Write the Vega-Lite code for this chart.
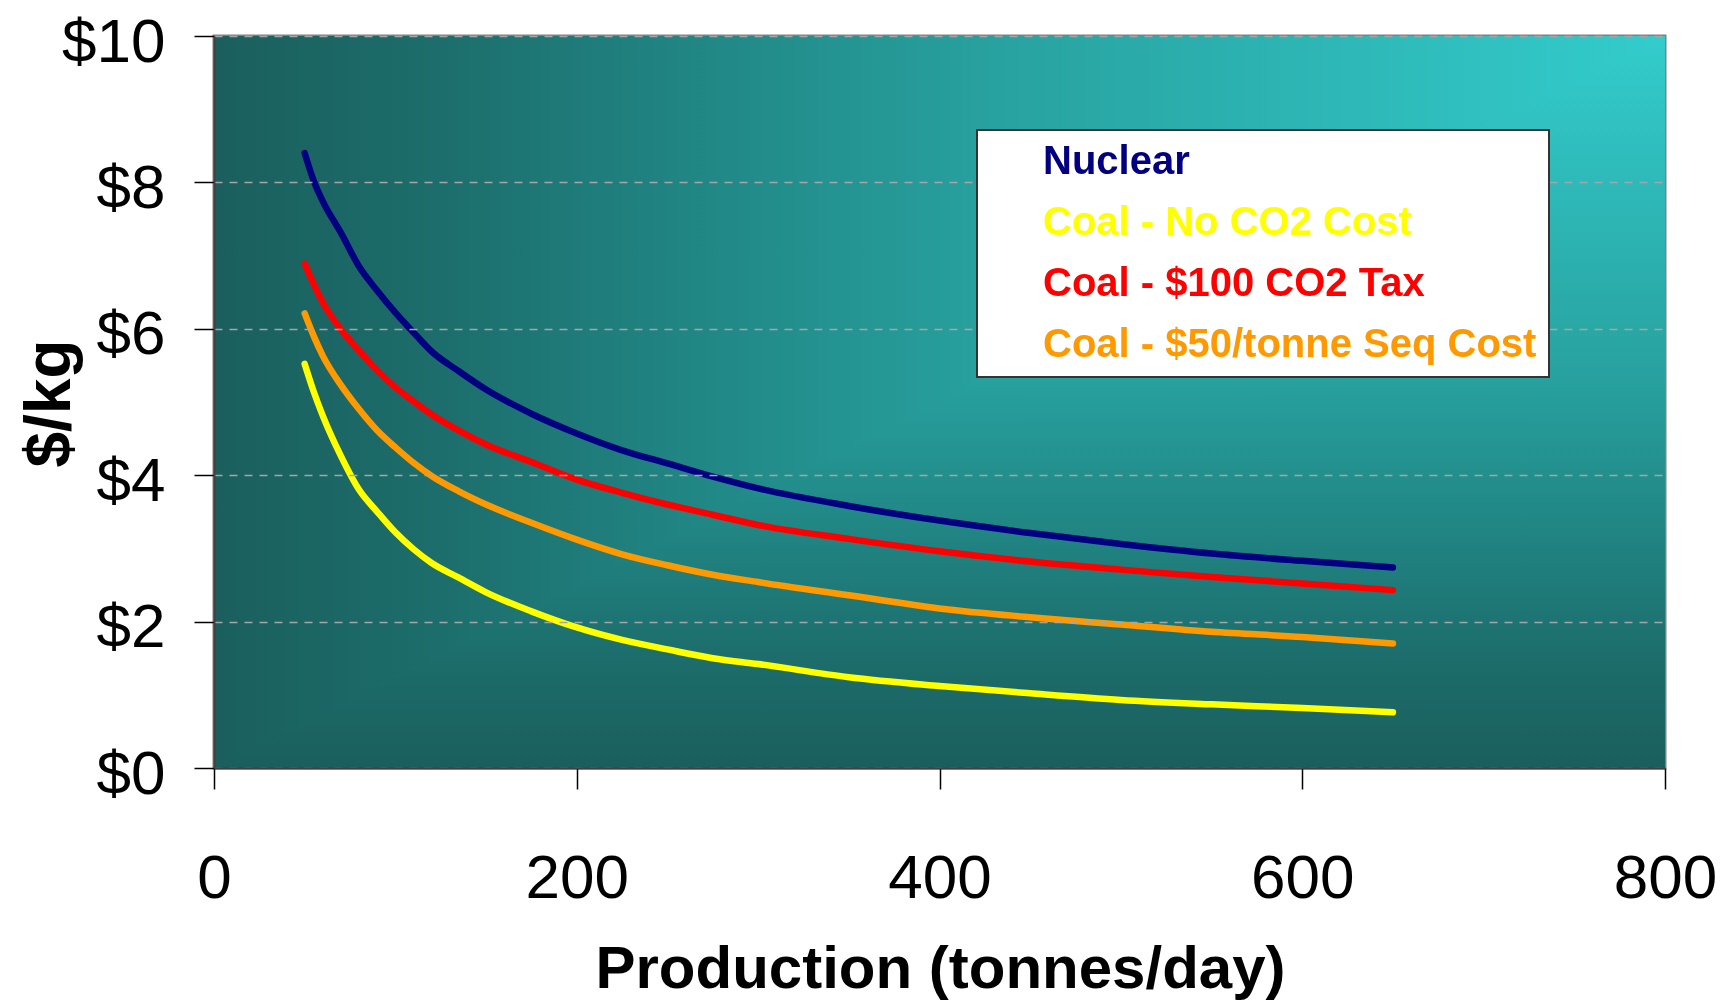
{
  "$schema": "https://vega.github.io/schema/vega-lite/v6.json",
  "width": 1451,
  "height": 732,
  "autosize": {"type": "none"},
  "padding": {"left": 214, "top": 36, "right": 68, "bottom": 232},
  "background": "white",
  "config": {
    "font": "Liberation Sans",
    "view": {"fill": "#1a5f5d", "stroke": "#808080", "strokeWidth": 3}
  },
  "datasets": {
    "curves": [
      {"production": 50, "cost": 8.40, "series": "Nuclear"},
      {"production": 55, "cost": 8.02, "series": "Nuclear"},
      {"production": 60, "cost": 7.74, "series": "Nuclear"},
      {"production": 70, "cost": 7.31, "series": "Nuclear"},
      {"production": 80, "cost": 6.85, "series": "Nuclear"},
      {"production": 90, "cost": 6.52, "series": "Nuclear"},
      {"production": 100, "cost": 6.22, "series": "Nuclear"},
      {"production": 110, "cost": 5.95, "series": "Nuclear"},
      {"production": 120, "cost": 5.69, "series": "Nuclear"},
      {"production": 135, "cost": 5.42, "series": "Nuclear"},
      {"production": 150, "cost": 5.17, "series": "Nuclear"},
      {"production": 175, "cost": 4.84, "series": "Nuclear"},
      {"production": 200, "cost": 4.57, "series": "Nuclear"},
      {"production": 225, "cost": 4.34, "series": "Nuclear"},
      {"production": 250, "cost": 4.16, "series": "Nuclear"},
      {"production": 275, "cost": 3.98, "series": "Nuclear"},
      {"production": 300, "cost": 3.82, "series": "Nuclear"},
      {"production": 350, "cost": 3.58, "series": "Nuclear"},
      {"production": 400, "cost": 3.38, "series": "Nuclear"},
      {"production": 450, "cost": 3.21, "series": "Nuclear"},
      {"production": 500, "cost": 3.06, "series": "Nuclear"},
      {"production": 550, "cost": 2.93, "series": "Nuclear"},
      {"production": 600, "cost": 2.83, "series": "Nuclear"},
      {"production": 650, "cost": 2.74, "series": "Nuclear"},

      {"production": 50, "cost": 5.52, "series": "Coal - No CO2 Cost"},
      {"production": 55, "cost": 5.14, "series": "Coal - No CO2 Cost"},
      {"production": 60, "cost": 4.81, "series": "Coal - No CO2 Cost"},
      {"production": 70, "cost": 4.26, "series": "Coal - No CO2 Cost"},
      {"production": 80, "cost": 3.80, "series": "Coal - No CO2 Cost"},
      {"production": 90, "cost": 3.50, "series": "Coal - No CO2 Cost"},
      {"production": 100, "cost": 3.22, "series": "Coal - No CO2 Cost"},
      {"production": 110, "cost": 2.99, "series": "Coal - No CO2 Cost"},
      {"production": 120, "cost": 2.80, "series": "Coal - No CO2 Cost"},
      {"production": 135, "cost": 2.60, "series": "Coal - No CO2 Cost"},
      {"production": 150, "cost": 2.40, "series": "Coal - No CO2 Cost"},
      {"production": 175, "cost": 2.14, "series": "Coal - No CO2 Cost"},
      {"production": 200, "cost": 1.92, "series": "Coal - No CO2 Cost"},
      {"production": 225, "cost": 1.75, "series": "Coal - No CO2 Cost"},
      {"production": 250, "cost": 1.62, "series": "Coal - No CO2 Cost"},
      {"production": 275, "cost": 1.50, "series": "Coal - No CO2 Cost"},
      {"production": 300, "cost": 1.42, "series": "Coal - No CO2 Cost"},
      {"production": 350, "cost": 1.24, "series": "Coal - No CO2 Cost"},
      {"production": 400, "cost": 1.12, "series": "Coal - No CO2 Cost"},
      {"production": 450, "cost": 1.02, "series": "Coal - No CO2 Cost"},
      {"production": 500, "cost": 0.93, "series": "Coal - No CO2 Cost"},
      {"production": 550, "cost": 0.87, "series": "Coal - No CO2 Cost"},
      {"production": 600, "cost": 0.82, "series": "Coal - No CO2 Cost"},
      {"production": 650, "cost": 0.76, "series": "Coal - No CO2 Cost"},

      {"production": 50, "cost": 6.89, "series": "Coal - $100 CO2 Tax"},
      {"production": 55, "cost": 6.61, "series": "Coal - $100 CO2 Tax"},
      {"production": 60, "cost": 6.36, "series": "Coal - $100 CO2 Tax"},
      {"production": 70, "cost": 5.99, "series": "Coal - $100 CO2 Tax"},
      {"production": 80, "cost": 5.70, "series": "Coal - $100 CO2 Tax"},
      {"production": 90, "cost": 5.43, "series": "Coal - $100 CO2 Tax"},
      {"production": 100, "cost": 5.20, "series": "Coal - $100 CO2 Tax"},
      {"production": 110, "cost": 5.01, "series": "Coal - $100 CO2 Tax"},
      {"production": 120, "cost": 4.83, "series": "Coal - $100 CO2 Tax"},
      {"production": 135, "cost": 4.61, "series": "Coal - $100 CO2 Tax"},
      {"production": 150, "cost": 4.42, "series": "Coal - $100 CO2 Tax"},
      {"production": 175, "cost": 4.18, "series": "Coal - $100 CO2 Tax"},
      {"production": 200, "cost": 3.94, "series": "Coal - $100 CO2 Tax"},
      {"production": 225, "cost": 3.76, "series": "Coal - $100 CO2 Tax"},
      {"production": 250, "cost": 3.60, "series": "Coal - $100 CO2 Tax"},
      {"production": 275, "cost": 3.46, "series": "Coal - $100 CO2 Tax"},
      {"production": 300, "cost": 3.32, "series": "Coal - $100 CO2 Tax"},
      {"production": 350, "cost": 3.13, "series": "Coal - $100 CO2 Tax"},
      {"production": 400, "cost": 2.96, "series": "Coal - $100 CO2 Tax"},
      {"production": 450, "cost": 2.82, "series": "Coal - $100 CO2 Tax"},
      {"production": 500, "cost": 2.71, "series": "Coal - $100 CO2 Tax"},
      {"production": 550, "cost": 2.61, "series": "Coal - $100 CO2 Tax"},
      {"production": 600, "cost": 2.52, "series": "Coal - $100 CO2 Tax"},
      {"production": 650, "cost": 2.43, "series": "Coal - $100 CO2 Tax"},

      {"production": 50, "cost": 6.21, "series": "Coal - $50/tonne Seq Cost"},
      {"production": 55, "cost": 5.90, "series": "Coal - $50/tonne Seq Cost"},
      {"production": 60, "cost": 5.63, "series": "Coal - $50/tonne Seq Cost"},
      {"production": 70, "cost": 5.23, "series": "Coal - $50/tonne Seq Cost"},
      {"production": 80, "cost": 4.90, "series": "Coal - $50/tonne Seq Cost"},
      {"production": 90, "cost": 4.61, "series": "Coal - $50/tonne Seq Cost"},
      {"production": 100, "cost": 4.38, "series": "Coal - $50/tonne Seq Cost"},
      {"production": 110, "cost": 4.17, "series": "Coal - $50/tonne Seq Cost"},
      {"production": 120, "cost": 3.99, "series": "Coal - $50/tonne Seq Cost"},
      {"production": 135, "cost": 3.78, "series": "Coal - $50/tonne Seq Cost"},
      {"production": 150, "cost": 3.60, "series": "Coal - $50/tonne Seq Cost"},
      {"production": 175, "cost": 3.35, "series": "Coal - $50/tonne Seq Cost"},
      {"production": 200, "cost": 3.12, "series": "Coal - $50/tonne Seq Cost"},
      {"production": 225, "cost": 2.92, "series": "Coal - $50/tonne Seq Cost"},
      {"production": 250, "cost": 2.77, "series": "Coal - $50/tonne Seq Cost"},
      {"production": 275, "cost": 2.64, "series": "Coal - $50/tonne Seq Cost"},
      {"production": 300, "cost": 2.54, "series": "Coal - $50/tonne Seq Cost"},
      {"production": 350, "cost": 2.36, "series": "Coal - $50/tonne Seq Cost"},
      {"production": 400, "cost": 2.18, "series": "Coal - $50/tonne Seq Cost"},
      {"production": 450, "cost": 2.06, "series": "Coal - $50/tonne Seq Cost"},
      {"production": 500, "cost": 1.96, "series": "Coal - $50/tonne Seq Cost"},
      {"production": 550, "cost": 1.86, "series": "Coal - $50/tonne Seq Cost"},
      {"production": 600, "cost": 1.79, "series": "Coal - $50/tonne Seq Cost"},
      {"production": 650, "cost": 1.70, "series": "Coal - $50/tonne Seq Cost"}
    ]
  },
  "layer": [
    {
      "description": "plot-area shading, horizontal component (bright at the right edge)",
      "data": {"values": [{}]},
      "mark": {
        "type": "rect",
        "color": {
          "gradient": "linear",
          "x1": 1, "y1": 0, "x2": 0, "y2": 0,
          "stops": [
            {"offset": 0, "color": "#33cccc"},
            {"offset": 0.45, "color": "#28a3a1"},
            {"offset": 0.65, "color": "#218987"},
            {"offset": 0.85, "color": "#1c6d6b"},
            {"offset": 1, "color": "#1a5f5d"}
          ]
        }
      },
      "encoding": {
        "x": {"datum": 0, "type": "quantitative"},
        "x2": {"datum": 800},
        "y": {"datum": 0, "type": "quantitative"},
        "y2": {"datum": 10}
      }
    },
    {
      "description": "plot-area shading, vertical component (bright at the top), darken-blended so the corner glows",
      "data": {"values": [{}]},
      "mark": {
        "type": "rect",
        "blend": "darken",
        "color": {
          "gradient": "linear",
          "x1": 0, "y1": 0, "x2": 0, "y2": 1,
          "stops": [
            {"offset": 0, "color": "#33cccc"},
            {"offset": 0.45, "color": "#28a3a1"},
            {"offset": 0.65, "color": "#218987"},
            {"offset": 0.85, "color": "#1c6d6b"},
            {"offset": 1, "color": "#1a5f5d"}
          ]
        }
      },
      "encoding": {
        "x": {"datum": 0, "type": "quantitative"},
        "x2": {"datum": 800},
        "y": {"datum": 0, "type": "quantitative"},
        "y2": {"datum": 10}
      }
    },
    {
      "data": {"name": "curves"},
      "mark": {
        "type": "line",
        "strokeWidth": 6.5,
        "strokeCap": "round",
        "strokeJoin": "round",
        "interpolate": "monotone"
      },
      "encoding": {
        "x": {
          "field": "production",
          "type": "quantitative",
          "scale": {"domain": [0, 800], "nice": false, "zero": false},
          "axis": {
            "zindex": 1,
            "values": [0, 200, 400, 600, 800],
            "title": "Production (tonnes/day)",
            "grid": false,
            "domainColor": "#404040",
            "domainWidth": 2,
            "tickColor": "black",
            "tickWidth": 1.5,
            "tickSize": 21,
            "labelFont": "Liberation Sans",
            "labelFontSize": 62,
            "labelColor": "black",
            "labelPadding": 59,
            "labelFlush": false,
            "labelOverlap": false,
            "titleFont": "Liberation Sans",
            "titleFontSize": 60,
            "titleFontWeight": "bold",
            "titleColor": "black",
            "titleX": 726,
            "titleY": 219,
            "titleBaseline": "alphabetic"
          }
        },
        "y": {
          "field": "cost",
          "type": "quantitative",
          "scale": {"domain": [0, 10], "nice": false},
          "axis": {
            "zindex": 1,
            "values": [0, 2, 4, 6, 8, 10],
            "labelExpr": "'$' + datum.value",
            "title": "$/kg",
            "grid": true,
            "gridColor": "#a6a6a6",
            "gridDash": [8, 7],
            "gridWidth": 1.5,
            "domainColor": "#404040",
            "domainWidth": 2,
            "tickColor": "black",
            "tickWidth": 1.5,
            "tickSize": 20,
            "labelFont": "Liberation Sans",
            "labelFontSize": 62,
            "labelColor": "black",
            "labelPadding": 29,
            "labelOffset": 6,
            "labelOverlap": false,
            "titleFont": "Liberation Sans",
            "titleFontSize": 64,
            "titleFontWeight": "bold",
            "titleColor": "black",
            "titleAngle": -90,
            "titleX": -145,
            "titleY": 367,
            "titleBaseline": "alphabetic"
          }
        },
        "color": {
          "field": "series",
          "type": "nominal",
          "scale": {
            "domain": ["Nuclear", "Coal - No CO2 Cost", "Coal - $100 CO2 Tax", "Coal - $50/tonne Seq Cost"],
            "range": ["#000080", "#ffff00", "#ff0000", "#ff9900"]
          },
          "legend": {
            "zindex": 2,
            "orient": "none",
            "legendX": 763,
            "legendY": 94,
            "title": null,
            "fillColor": "white",
            "strokeColor": "#333333",
            "padding": 12,
            "symbolType": "circle",
            "symbolSize": 1600,
            "symbolOpacity": 0,
            "symbolStrokeWidth": 0,
            "labelFont": "Liberation Sans",
            "labelFontWeight": "bold",
            "labelFontSize": 40,
            "labelOffset": 14,
            "labelLimit": 1000,
            "rowPadding": 21,
            "encode": {
              "labels": {"update": {"fill": {"scale": "color", "field": "value"}}},
              "legend": {"update": {"strokeWidth": {"value": 2}}}
            }
          }
        }
      }
    }
  ]
}
